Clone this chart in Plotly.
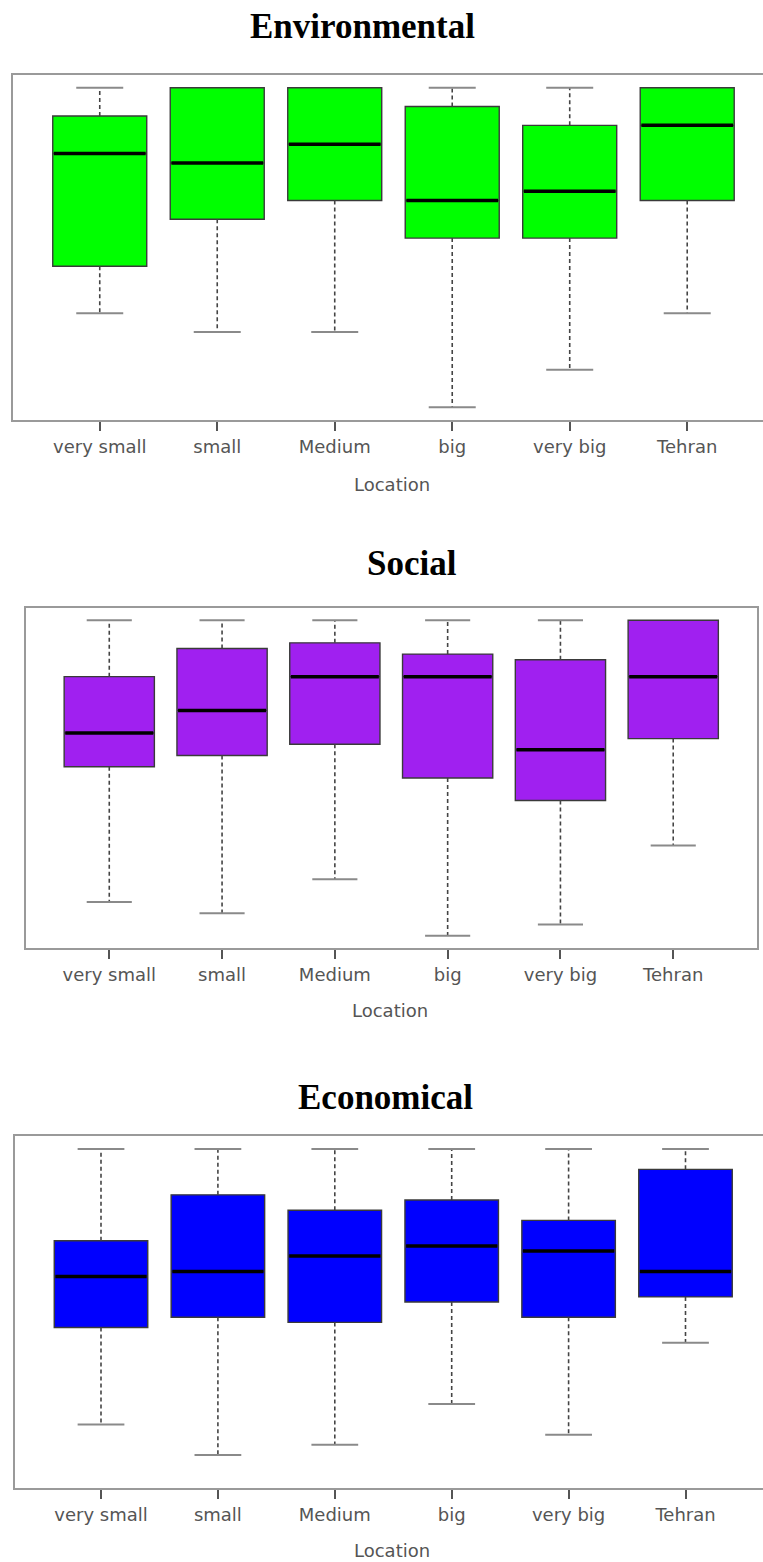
import plotly.graph_objects as go

categories = ["very small", "small", "Medium", "big", "very big", "Tehran"]

# Environmental (arbitrary score units)
env_min = [8, 7, 7, 3, 5, 8]
env_q1 = [10.5, 13, 14, 12, 12, 14]
env_med = [16.5, 16, 17, 14, 14.5, 18]
env_q3 = [18.5, 20, 20, 19, 18, 20]
env_max = [20, 20, 20, 20, 20, 20]

# Social
soc_min = [10, 9, 12, 7, 8, 15]
soc_q1 = [22, 23, 24, 21, 19, 24.5]
soc_med = [25, 27, 30, 30, 23.5, 30]
soc_q3 = [30, 32.5, 33, 32, 31.5, 35]
soc_max = [35, 35, 35, 35, 35, 35]

# Economical
eco_min = [8, 5, 6, 10, 7, 16]
eco_q1 = [17.5, 18.5, 18, 20, 18.5, 20.5]
eco_med = [22.5, 23, 24.5, 25.5, 25, 23]
eco_q3 = [26, 30.5, 29, 30, 28, 33]
eco_max = [35, 35, 35, 35, 35, 35]

W, H = 763, 1562
positions = list(range(1, len(categories) + 1))

panels = [
    dict(title="Environmental", color="#00FF00", mn=env_min, q1=env_q1, med=env_med, q3=env_q3, mx=env_max,
         px_top=75, px_bot=420, px_left=12.8, xr=(0.26, 6.645), yr=(2.32, 20.68), mirror=False,
         title_x=362, title_y=27, xt_y=484, xt_x=392),
    dict(title="Social", color="#A020F0", mn=soc_min, q1=soc_q1, med=soc_med, q3=soc_q3, mx=soc_max,
         px_top=607.7, px_bot=948.3, px_left=25.8, px_right=756.7, xr=(0.26, 6.74), yr=(5.88, 36.12), mirror=True,
         title_x=412, title_y=563, xt_y=1011, xt_x=390),
    dict(title="Economical", color="#0000FF", mn=eco_min, q1=eco_q1, med=eco_med, q3=eco_q3, mx=eco_max,
         px_top=1135.7, px_bot=1488.3, px_left=14.5, xr=(0.26, 6.663), yr=(1.74, 36.30), mirror=False,
         title_x=385, title_y=1097, xt_y=1550, xt_x=392),
]

SANS = "DejaVu Sans"
fig = go.Figure()
annotations = []
layout_axes = {}

for i, p in enumerate(panels, start=1):
    xa = "x" if i == 1 else f"x{i}"
    ya = "y" if i == 1 else f"y{i}"

    # dashed whiskers
    wx, wy = [], []
    for k, pos in enumerate(positions):
        wx += [pos, pos, None, pos, pos, None]
        wy += [p["q3"][k], p["mx"][k], None, p["q1"][k], p["mn"][k], None]
    fig.add_trace(go.Scatter(x=wx, y=wy, mode="lines", xaxis=xa, yaxis=ya,
                             line=dict(color="#444444", width=1.6, dash="4px,3px"),
                             showlegend=False, hoverinfo="skip"))
    # whisker caps (hidden under the box edge when the whisker has zero length)
    cx, cy = [], []
    for k, pos in enumerate(positions):
        if p["mx"][k] > p["q3"][k]:
            cx += [pos - 0.2, pos + 0.2, None]
            cy += [p["mx"][k], p["mx"][k], None]
        if p["mn"][k] < p["q1"][k]:
            cx += [pos - 0.2, pos + 0.2, None]
            cy += [p["mn"][k], p["mn"][k], None]
    fig.add_trace(go.Scatter(x=cx, y=cy, mode="lines", xaxis=xa, yaxis=ya,
                             line=dict(color="#8a8a8a", width=2),
                             showlegend=False, hoverinfo="skip"))
    # boxes
    fig.add_trace(go.Box(x=positions, q1=p["q1"], median=p["med"], q3=p["q3"],
                         lowerfence=p["q1"], upperfence=p["q3"],
                         width=0.8, whiskerwidth=0, fillcolor=p["color"],
                         line=dict(color="#3a3a3a", width=1.4),
                         xaxis=xa, yaxis=ya, showlegend=False, boxpoints=False))
    # thick medians
    mx_, my_ = [], []
    for k, pos in enumerate(positions):
        mx_ += [pos - 0.39, pos + 0.39, None]
        my_ += [p["med"][k], p["med"][k], None]
    fig.add_trace(go.Scatter(x=mx_, y=my_, mode="lines", xaxis=xa, yaxis=ya,
                             line=dict(color="#000000", width=3.5),
                             showlegend=False, hoverinfo="skip"))

    x0 = p["px_left"] / W
    x1 = p.get("px_right", W) / W
    y0 = 1 - p["px_bot"] / H
    y1 = 1 - p["px_top"] / H
    xkey = "xaxis" if i == 1 else f"xaxis{i}"
    ykey = "yaxis" if i == 1 else f"yaxis{i}"
    layout_axes[xkey] = dict(domain=[x0, x1], anchor=ya, range=list(p["xr"]),
                             tickmode="array", tickvals=positions, ticktext=categories,
                             ticks="outside", ticklen=9, tickwidth=2, tickcolor="#555555",
                             showline=True, linecolor="#9a9a9a", linewidth=2, mirror=True,
                             showgrid=False, zeroline=False,
                             tickfont=dict(family=SANS, size=18, color="#555555"))
    layout_axes[ykey] = dict(domain=[y0, y1], anchor=xa, range=list(p["yr"]),
                             showticklabels=False, ticks="", showgrid=False, zeroline=False,
                             showline=True, linecolor="#9a9a9a", linewidth=2, mirror=p["mirror"])

    annotations.append(dict(text=f"<b>{p['title']}</b>", x=p["title_x"] / W, y=1 - p["title_y"] / H,
                            xref="paper", yref="paper", xanchor="center", yanchor="middle", showarrow=False,
                            font=dict(family="Liberation Serif", size=35, color="#000000")))
    annotations.append(dict(text="Location", x=p["xt_x"] / W, y=1 - p["xt_y"] / H,
                            xref="paper", yref="paper", xanchor="center", yanchor="middle", showarrow=False,
                            font=dict(family=SANS, size=18, color="#555555")))

fig.update_layout(width=W, height=H, margin=dict(l=0, r=0, t=0, b=0),
                  plot_bgcolor="white", paper_bgcolor="white",
                  annotations=annotations, showlegend=False, **layout_axes)

fig.write_html("out.html", config={"displayModeBar": False},
               post_script="document.body.style.margin='0px';document.body.style.overflow='hidden';")
